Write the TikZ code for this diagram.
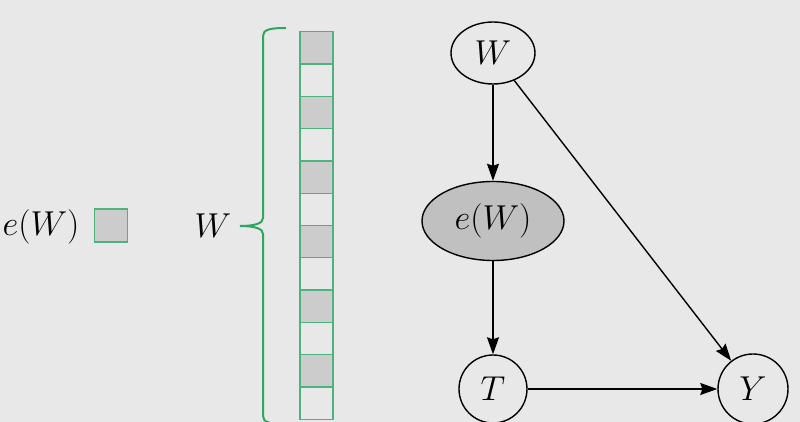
\documentclass[tikz,border=0pt]{standalone}
\usepackage{amsmath}
\usepackage{xcolor}
\usetikzlibrary{arrows.meta,shapes.geometric,positioning}

\definecolor{bggray}{HTML}{E8E8E8}
\definecolor{cellgray}{HTML}{CCCCCC}
\definecolor{nodegray}{HTML}{C0C0C0}
\definecolor{cellgreen}{HTML}{4DB37A}
\definecolor{bracegreen}{HTML}{2FA55F}

\begin{document}
\begin{tikzpicture}[x=0.5pt,y=-0.5pt,>={Stealth[length=8.5pt,width=6pt,inset=1pt]},
  line width=0.7pt,
  main node/.style={draw,inner sep=0pt,font=\LARGE},
  cell/.style={draw=cellgreen,line width=0.65pt}]

  \useasboundingbox[fill=bggray] (0,0) rectangle (800,422);

  % left legend
  \node[font=\LARGE] (eWlabel) at (41,227) {$e(W)$};
  \node[cell,fill=cellgray,minimum size=16.5pt,inner sep=0pt] (eWbox) at (111,225.5) {};

  % column of entries
  \node[font=\LARGE] (Wlabel) at (213,226) {$W$};
  \draw[bracegreen,line width=1pt] (286,28) .. controls (270,28) and (263,29.5) .. (263,36)
    -- (263,218) .. controls (263,223) and (256,226) .. (240,226)
    .. controls (256,226) and (263,229) .. (263,234)
    -- (263,416) .. controls (263,422.5) and (270,424) .. (286,424);
  \foreach \i in {0,2,...,10}
    \fill[cellgray] (300,31.7+32.3*\i) rectangle +(33,32.3);
  \foreach \i in {0,...,11}
    \draw[cell] (300,31.7+32.3*\i) rectangle +(33,32.3);

  % graph
  \node[main node,ellipse,minimum width=42pt,minimum height=31pt] (W) at (493,53) {$W$};
  \node[main node,ellipse,fill=nodegray,minimum width=71pt,minimum height=39.5pt] (eW) at (493,221) {$e(W)$};
  \node[main node,circle,minimum size=34pt] (T) at (493,389) {$T$};
  \node[main node,circle,minimum size=35pt] (Y) at (753,389) {$Y$};

  \path[->]
    (W)  edge (eW)
         edge (Y)
    (eW) edge (T)
    (T)  edge (Y);

\end{tikzpicture}
\end{document}
